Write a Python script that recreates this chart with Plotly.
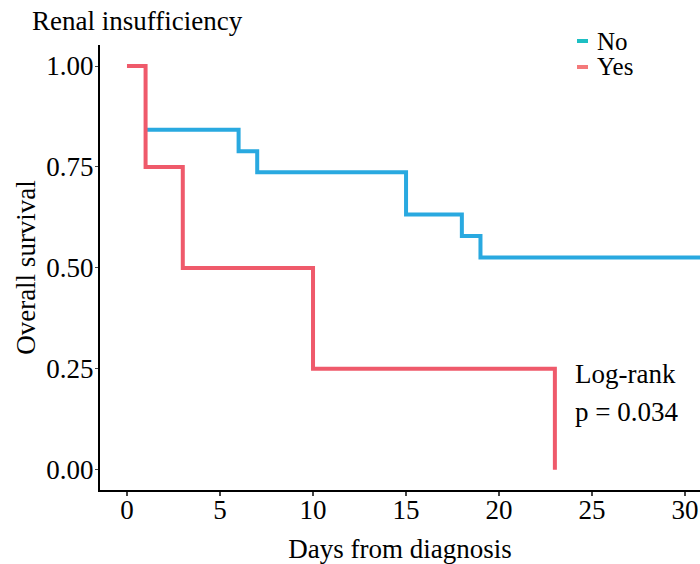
import plotly.graph_objects as go

# Kaplan-Meier step data
no_times = [1, 6, 7, 15, 18, 19, 31]
no_surv = [0.842, 0.789, 0.737, 0.632, 0.579, 0.526, 0.526]
yes_times = [0, 1, 3, 10, 23, 23]
yes_surv = [1.0, 0.75, 0.5, 0.25, 0.25, 0.0]

groups = ["No", "Yes"]
line_colors = {"No": "#29A9E0", "Yes": "#EF5A6B"}
legend_colors = {"No": "#1DBFC3", "Yes": "#F4797A"}
x_ticks = [0, 5, 10, 15, 20, 25, 30]
y_ticks = [0.0, 0.25, 0.5, 0.75, 1.0]
y_ticklabels = ["0.00", "0.25", "0.50", "0.75", "1.00"]

FONT = "Liberation Serif"
FS = 27
LFS = 25

fig = go.Figure()

fig.add_trace(go.Scatter(x=no_times, y=no_surv, mode="lines", line=dict(shape="hv", color=line_colors["No"], width=4),
                         showlegend=False, hoverinfo="skip"))
fig.add_trace(go.Scatter(x=yes_times, y=yes_surv, mode="lines", line=dict(shape="hv", color=line_colors["Yes"], width=4),
                         showlegend=False, hoverinfo="skip"))

# legend drawn as key dashes + labels (paper coordinates)
shapes = []
annotations = []
legend_y_px = [41, 67]
for g, ypx in zip(groups, legend_y_px):
    yp = (490 - ypx) / 445.0
    shapes.append(dict(type="line", xref="paper", yref="paper", x0=(577 - 100) / 600, x1=(588 - 100) / 600,
                       y0=yp, y1=yp, line=dict(color=legend_colors[g], width=4)))
    annotations.append(dict(text=g, xref="paper", yref="paper", x=(595 - 100) / 600, y=yp, xanchor="left",
                            yanchor="middle", showarrow=False, font=dict(family=FONT, size=LFS)))

annotations += [
    dict(text="Renal insufficiency", xref="paper", yref="paper", x=-0.117, y=(490 - 21) / 445.0, xanchor="left",
         yanchor="middle", showarrow=False, font=dict(family=FONT, size=FS)),
    dict(text="Log-rank", xref="x", yref="y", x=23.95, y=0.237, xanchor="left", yanchor="middle",
         showarrow=False, font=dict(family=FONT, size=FS)),
    dict(text="p = 0.034", xref="x", yref="y", x=23.95, y=0.143, xanchor="left", yanchor="middle",
         showarrow=False, font=dict(family=FONT, size=FS)),
]

fig.update_layout(
    width=700, height=564,
    margin=dict(l=100, r=0, t=45, b=74),
    plot_bgcolor="white", paper_bgcolor="white",
    font=dict(family=FONT, size=FS, color="black"),
    showlegend=False,
    xaxis=dict(range=[-1.45, 30.8], tickvals=x_ticks, ticks="outside", ticklen=4, tickwidth=2,
               showline=True, linecolor="black", linewidth=2, showgrid=False, zeroline=False,
               tickfont=dict(family=FONT, size=FS), ticklabelstandoff=-9,
               title=dict(text="Days from diagnosis", font=dict(family=FONT, size=FS), standoff=20)),
    yaxis=dict(range=[-0.05, 1.052], tickvals=y_ticks, ticktext=y_ticklabels, ticks="outside", ticklen=3, tickwidth=1,
               showline=True, linecolor="black", linewidth=2, showgrid=False, zeroline=False,
               tickfont=dict(family=FONT, size=FS), ticklabelstandoff=-4,
               title=dict(text="Overall survival", font=dict(family=FONT, size=FS), standoff=3)),
    shapes=shapes,
    annotations=annotations,
)

fig.write_html("out.html")
